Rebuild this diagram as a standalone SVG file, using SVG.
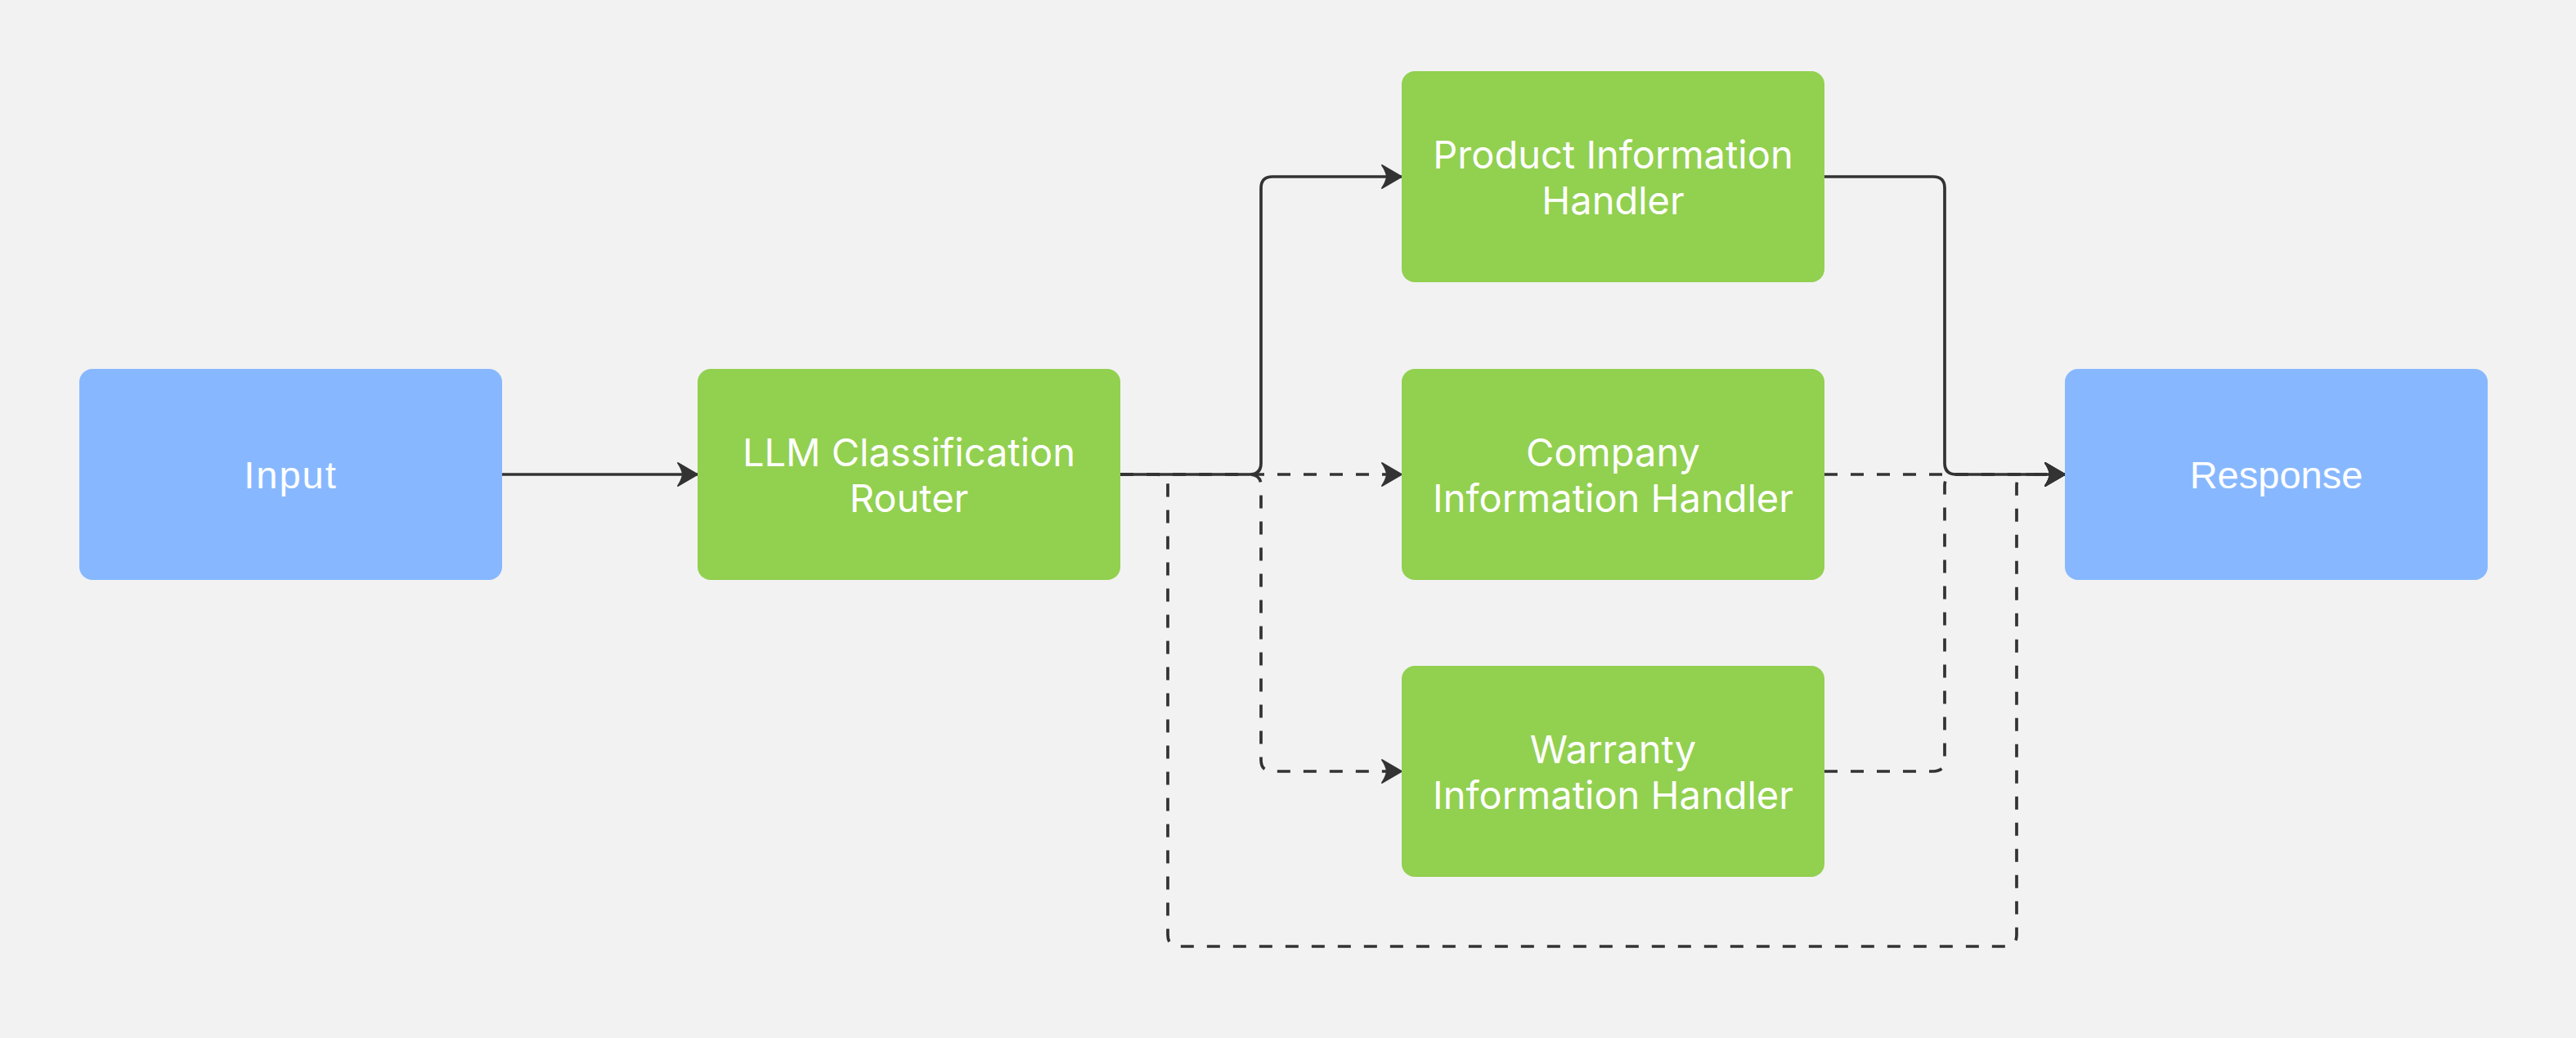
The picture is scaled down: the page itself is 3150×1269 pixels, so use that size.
<svg xmlns="http://www.w3.org/2000/svg" width="3150" height="1269" viewBox="0 0 3150 1269">
<style>
.bg{fill:#f2f2f2}
.green{fill:#92d050}
.blue{fill:#87b8ff}
.t{fill:#ffffff;font-family:Inter,"Liberation Sans",sans-serif;font-size:47px;text-anchor:middle}
.tb{fill:#ffffff;font-family:"Liberation Sans",Arial,sans-serif;font-size:47px;text-anchor:middle}
.edge{fill:none;stroke:#333333;stroke-width:3.7;stroke-linejoin:round}
.dash{stroke-dasharray:16 16}
</style>
<defs>
<marker id="arr" markerUnits="userSpaceOnUse" markerWidth="40" markerHeight="40" viewBox="-30 -20 34 40" refX="0" refY="0" orient="auto">
<path d="M0,0 L-24,-14 Q-19,-7 -18,0 Q-19,7 -24,14 Z" fill="#333333" stroke="#333333" stroke-width="2" stroke-linejoin="round"/>
</marker>
</defs>
<rect class="bg" x="0" y="0" width="3150" height="1269"/>
<g id="connectors">
<path class="edge dash" d="M1370,580 H1714" marker-end="url(#arr)"/>
<path class="edge dash" d="M1370,580 H1528 Q1542,580 1542,594 V929 Q1542,943 1556,943 H1714" marker-end="url(#arr)"/>
<path class="edge dash" d="M1370,580 H1414 Q1428,580 1428,594 V1143 Q1428,1157 1442,1157 H2452 Q2466,1157 2466,1143 V594 Q2466,580 2480,580 H2525" marker-end="url(#arr)"/>
<path class="edge dash" d="M2231,580 H2525" marker-end="url(#arr)"/>
<path class="edge dash" d="M2231,943 H2364 Q2378,943 2378,929 V594 Q2378,580 2392,580 H2525" marker-end="url(#arr)"/>
<path class="edge" d="M614,580 H853" marker-end="url(#arr)"/>
<path class="edge" d="M1370,580 H1528 Q1542,580 1542,566 V230 Q1542,216 1556,216 H1714" marker-end="url(#arr)"/>
<path class="edge" d="M2231,216 H2364 Q2378,216 2378,230 V566 Q2378,580 2392,580 H2525" marker-end="url(#arr)"/>
</g>
<g id="input">
<rect class="blue" x="97" y="451" width="517" height="258" rx="16"/>
<text class="tb" x="355.5" y="597" letter-spacing="2">Input</text>
</g>
<g id="router">
<rect class="green" x="853" y="451" width="517" height="258" rx="16"/>
<text class="t" x="1111.5" y="570">LLM Classification</text>
<text class="t" x="1111.5" y="626">Router</text>
</g>
<g id="product">
<rect class="green" x="1714" y="87" width="517" height="258" rx="16"/>
<text class="t" x="1972.5" y="206">Product Information</text>
<text class="t" x="1972.5" y="262">Handler</text>
</g>
<g id="company">
<rect class="green" x="1714" y="451" width="517" height="258" rx="16"/>
<text class="t" x="1972.5" y="570">Company</text>
<text class="t" x="1972.5" y="626">Information Handler</text>
</g>
<g id="warranty">
<rect class="green" x="1714" y="814" width="517" height="258" rx="16"/>
<text class="t" x="1972.5" y="933">Warranty</text>
<text class="t" x="1972.5" y="989">Information Handler</text>
</g>
<g id="response">
<rect class="blue" x="2525" y="451" width="517" height="258" rx="16"/>
<text class="tb" x="2783.5" y="597">Response</text>
</g>
</svg>
